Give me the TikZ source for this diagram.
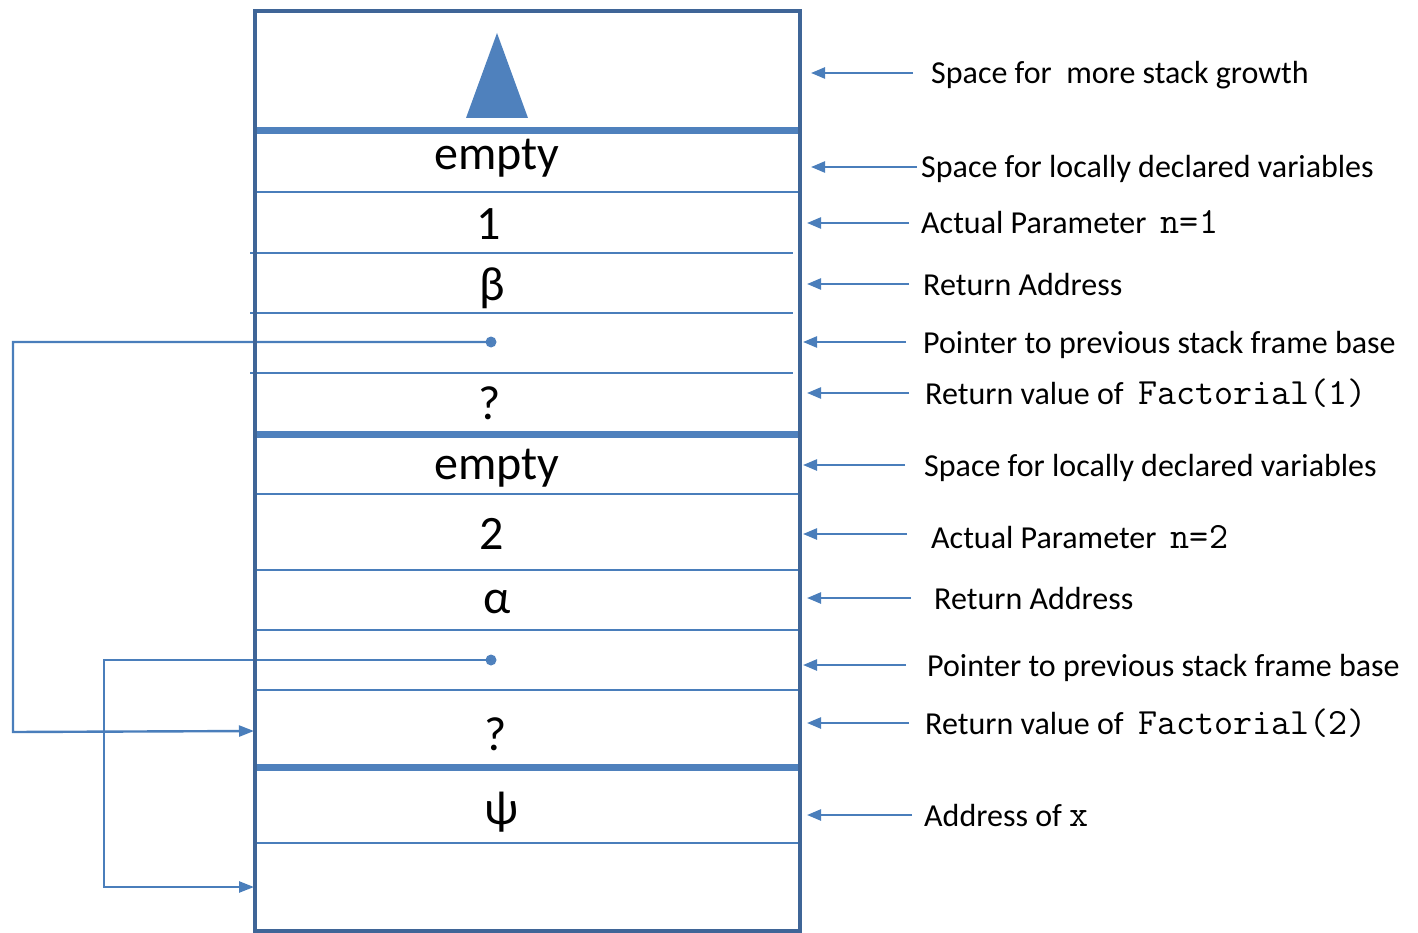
\documentclass[tikz,border=0pt]{standalone}
\usepackage{fontspec}
\setmainfont{Carlito}
\usetikzlibrary{arrows.meta}
\definecolor{lineblue}{HTML}{4A7EBB}
\definecolor{boxblue}{HTML}{3F6597}
\definecolor{fillblue}{HTML}{4F81BD}
\tikzset{
  thinsep/.style={draw=lineblue, line width=2.5pt},
  thicksep/.style={draw=fillblue, line width=7pt},
  big/.style={inner sep=0pt, anchor=base, font=\fontsize{48}{54}\selectfont},
  lbl/.style={inner sep=0pt, anchor=base west, font=\fontsize{32}{36}\selectfont},
  pointer/.style={draw=lineblue, line width=2.4pt, -{Triangle[length=14pt,width=11pt]}},
  link/.style={draw=lineblue, line width=2.4pt, -{Triangle[length=15pt,width=11pt]}},
  dot/.style={circle, fill=fillblue, inner sep=0pt, minimum size=11pt},
}
\newcommand{\cw}[1]{{\fontsize{37}{37}\selectfont\ttfamily #1}}
\begin{document}
\begin{tikzpicture}[x=1pt,y=-1pt]
\path[use as bounding box] (0,0) rectangle (1418,933);
% separators
\draw[thinsep] (255,192) -- (800,192);
\draw[thinsep] (250,253) -- (793,253);
\draw[thinsep] (250,313) -- (793,313);
\draw[thinsep] (250,373) -- (793,373);
\draw[thinsep] (255,494) -- (800,494);
\draw[thinsep] (255,570) -- (800,570);
\draw[thinsep] (255,630) -- (800,630);
\draw[thinsep] (255,690) -- (800,690);
\draw[thinsep] (255,843) -- (800,843);
\draw[thicksep] (257,131) -- (798,131);
\draw[thicksep] (257,434) -- (798,434);
\draw[thicksep] (257,767) -- (798,767);
% triangle
\fill[fillblue] (497,33) -- (528,118) -- (466,118) -- cycle;
% cell contents
\node[big] (e1) at (497,170) {empty};
\node[big] (n1) at (489,240) {1};
\node[big] (b1) at (492,300) {β};
\node[dot] (d1) at (491,342) {};
\node[big] (q1) at (490,419) {?};
\node[big] (e2) at (497,479) {empty};
\node[big] (n2) at (492,549) {2};
\node[big] (a2) at (497,613) {α};
\node[dot] (d2) at (491,660) {};
\node[big] (q2) at (496,750) {?};
\node[big] (p3) at (501,824) {ψ};
% links
\coordinate (k1) at (13,342);
\coordinate (k2) at (13,732);
\coordinate (t1) at (254,731);
\draw[link] (d1.center) -- (k1) -- (k2) -- (t1);
\coordinate (k3) at (104,660);
\coordinate (k4) at (104,887);
\coordinate (t2) at (254,887);
\draw[link] (d2.center) -- (k3) -- (k4) -- (t2);
% box outline
\draw[boxblue, line width=4pt] (255,11) rectangle (800,931);
% labels
\node[lbl] (L1) at (931,84) {Space for\ \ more stack growth};
\node[lbl] (L2) at (921,178) {Space for locally declared variables};
\node[lbl] (L3) at (921,234) {Actual Parameter\ \ \cw{n=1}};
\node[lbl] (L4) at (923,295) {Return Address};
\node[lbl] (L5) at (923,353) {Pointer to previous stack frame base};
\node[lbl] (L6) at (925,404) {Return value of\ \ \cw{Factorial(1)}};
\node[lbl] (L7) at (924,476) {Space for locally declared variables};
\node[lbl] (L8) at (931,548) {Actual Parameter\ \ \cw{n=2}};
\node[lbl] (L9) at (934,609) {Return Address};
\node[lbl] (L10) at (927,676) {Pointer to previous stack frame base};
\node[lbl] (L11) at (925,734) {Return value of\ \ \cw{Factorial(2)}};
\node[lbl] (L12) at (924,826) {Address of \cw{x}};
% label arrows
\foreach \i/\xa/\xb/\yy in {1/913/811/73, 2/917/811/167, 3/909/807/223, 4/909/807/284, 5/906/803/342, 6/909/807/393, 7/905/803/465, 8/907/803/534, 9/911/807/598, 10/906/803/665, 11/909/807/723, 12/912/807/815}{
  \coordinate (s\i) at (\xa,\yy);
  \coordinate (e\i) at (\xb,\yy);
  \draw[pointer] (s\i) -- (e\i);
}
\end{tikzpicture}
\end{document}
